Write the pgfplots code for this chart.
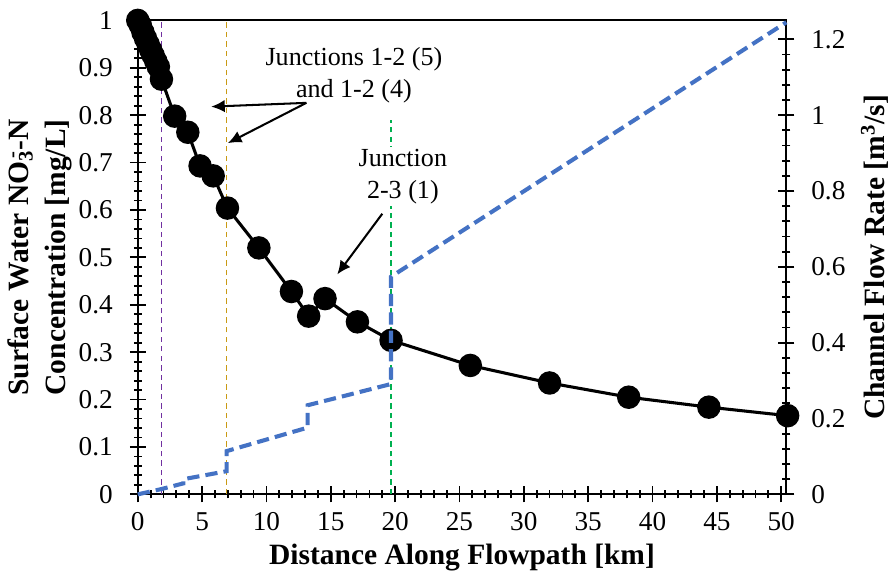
\documentclass[border=0pt]{standalone}
\usepackage{fontspec}
\setmainfont{Liberation Serif}
\usepackage{pgfplots}
\pgfplotsset{compat=1.18}
\usetikzlibrary{arrows.meta}

\definecolor{flowblue}{HTML}{4472C4}
\definecolor{jpurple}{HTML}{7030A0}
\definecolor{jgold}{HTML}{C99A14}
\definecolor{jgreen}{HTML}{00B050}

\pgfplotsset{
  base/.style={
    scale only axis, width=286pt, height=209pt,
    xmin=0, xmax=50.4,
    tick align=center,
    major tick length=7pt, minor tick length=3.5pt,
    every tick/.append style={black, line width=0.8pt},
    axis line style={line width=0.9pt},
    tick label style={font=\fontsize{12}{14}\selectfont},
    /pgf/number format/assume math mode=true,
    label style={font=\fontsize{13}{15}\selectfont\bfseries},
    clip=false,
  },
}
\tikzset{
  annot/.style={font=\fontsize{11.5}{14}\selectfont, align=center},
  arr/.style={-{Latex[length=6pt,width=5.5pt]}, line width=0.9pt},
}

\begin{document}
\begin{tikzpicture}
\begin{axis}[base,
  ymin=0, ymax=1,
  ytick={0,0.1,0.2,0.3,0.4,0.5,0.6,0.7,0.8,0.9,1},
  xtick={0,5,10,15,20,25,30,35,40,45,50},
  minor x tick num=4, minor y tick num=4,
  xtick pos=bottom, ytick pos=left,
  xticklabel shift=1pt, yticklabel shift=4pt,
  xlabel={Distance Along Flowpath [km]},
  ylabel={Surface Water NO\textsubscript{3}\llap{\textsuperscript{-}}-N\\Concentration [mg/L]},
  ylabel style={align=center, font=\fontsize{13}{16.5}\selectfont\bfseries, yshift=-4pt},
  xlabel style={yshift=1pt},
]
% junction markers
\addplot[jpurple, line width=0.75pt, dash pattern=on 2.4pt off 1.8pt] coordinates {(1.84,0) (1.84,1)};
\addplot[jgold, line width=0.75pt, dash pattern=on 2.4pt off 1.8pt] coordinates {(6.9,0) (6.9,1)};
\addplot[jgreen, line width=0.75pt, dash pattern=on 2.4pt off 1.8pt] coordinates {(19.68,0) (19.68,0.79)};

% concentration
\addplot[black, line width=1.35pt, mark=*, mark size=4.5pt] coordinates {
  (0,1.0) (0.2,0.99) (0.4,0.975) (0.6,0.962) (0.8,0.95) (1.0,0.938)
  (1.2,0.926) (1.4,0.914) (1.6,0.902) (1.84,0.876)
  (2.87,0.798) (3.89,0.764) (4.84,0.693) (5.86,0.672) (6.97,0.604)
  (9.41,0.520) (11.94,0.428) (13.28,0.376) (14.55,0.413) (17.07,0.364)
  (19.68,0.325) (25.84,0.272) (32.0,0.235) (38.15,0.205) (44.38,0.184)
  (50.5,0.166)
};

\node[annot] at (axis cs:16.8,0.885) {Junctions 1-2 (5)\\and 1-2 (4)};
\draw[arr] (axis cs:13.1,0.826) -- (axis cs:5.7,0.818);
\draw[arr] (axis cs:13.1,0.826) -- (axis cs:7.0,0.741);
\node[annot, fill=white, inner sep=1pt] at (axis cs:20.6,0.67) {Junction\\2-3 (1)};
\draw[arr] (axis cs:19.0,0.592) -- (axis cs:15.5,0.464);
\end{axis}

\begin{axis}[base,
  ymin=0, ymax=1.25,
  ytick={0,0.2,0.4,0.6,0.8,1,1.2},
  minor y tick num=4,
  axis y line*=right, axis x line=none,
  yticklabel shift=4pt,
  ylabel={Channel Flow Rate [m\textsuperscript{3}/s]},
]
\addplot[flowblue, line width=1.8pt, dash pattern=on 5.4pt off 2.7pt] coordinates {
  (0,0) (1.84,0.014) (3.55,0.029) (3.55,0.040) (6.9,0.061) (6.9,0.114)
  (13.2,0.176) (13.2,0.235) (19.68,0.291) (19.68,0.574) (50.4,1.245)
};
\end{axis}
\path (current axis.north) ++(0,9pt);
\end{tikzpicture}
\end{document}
